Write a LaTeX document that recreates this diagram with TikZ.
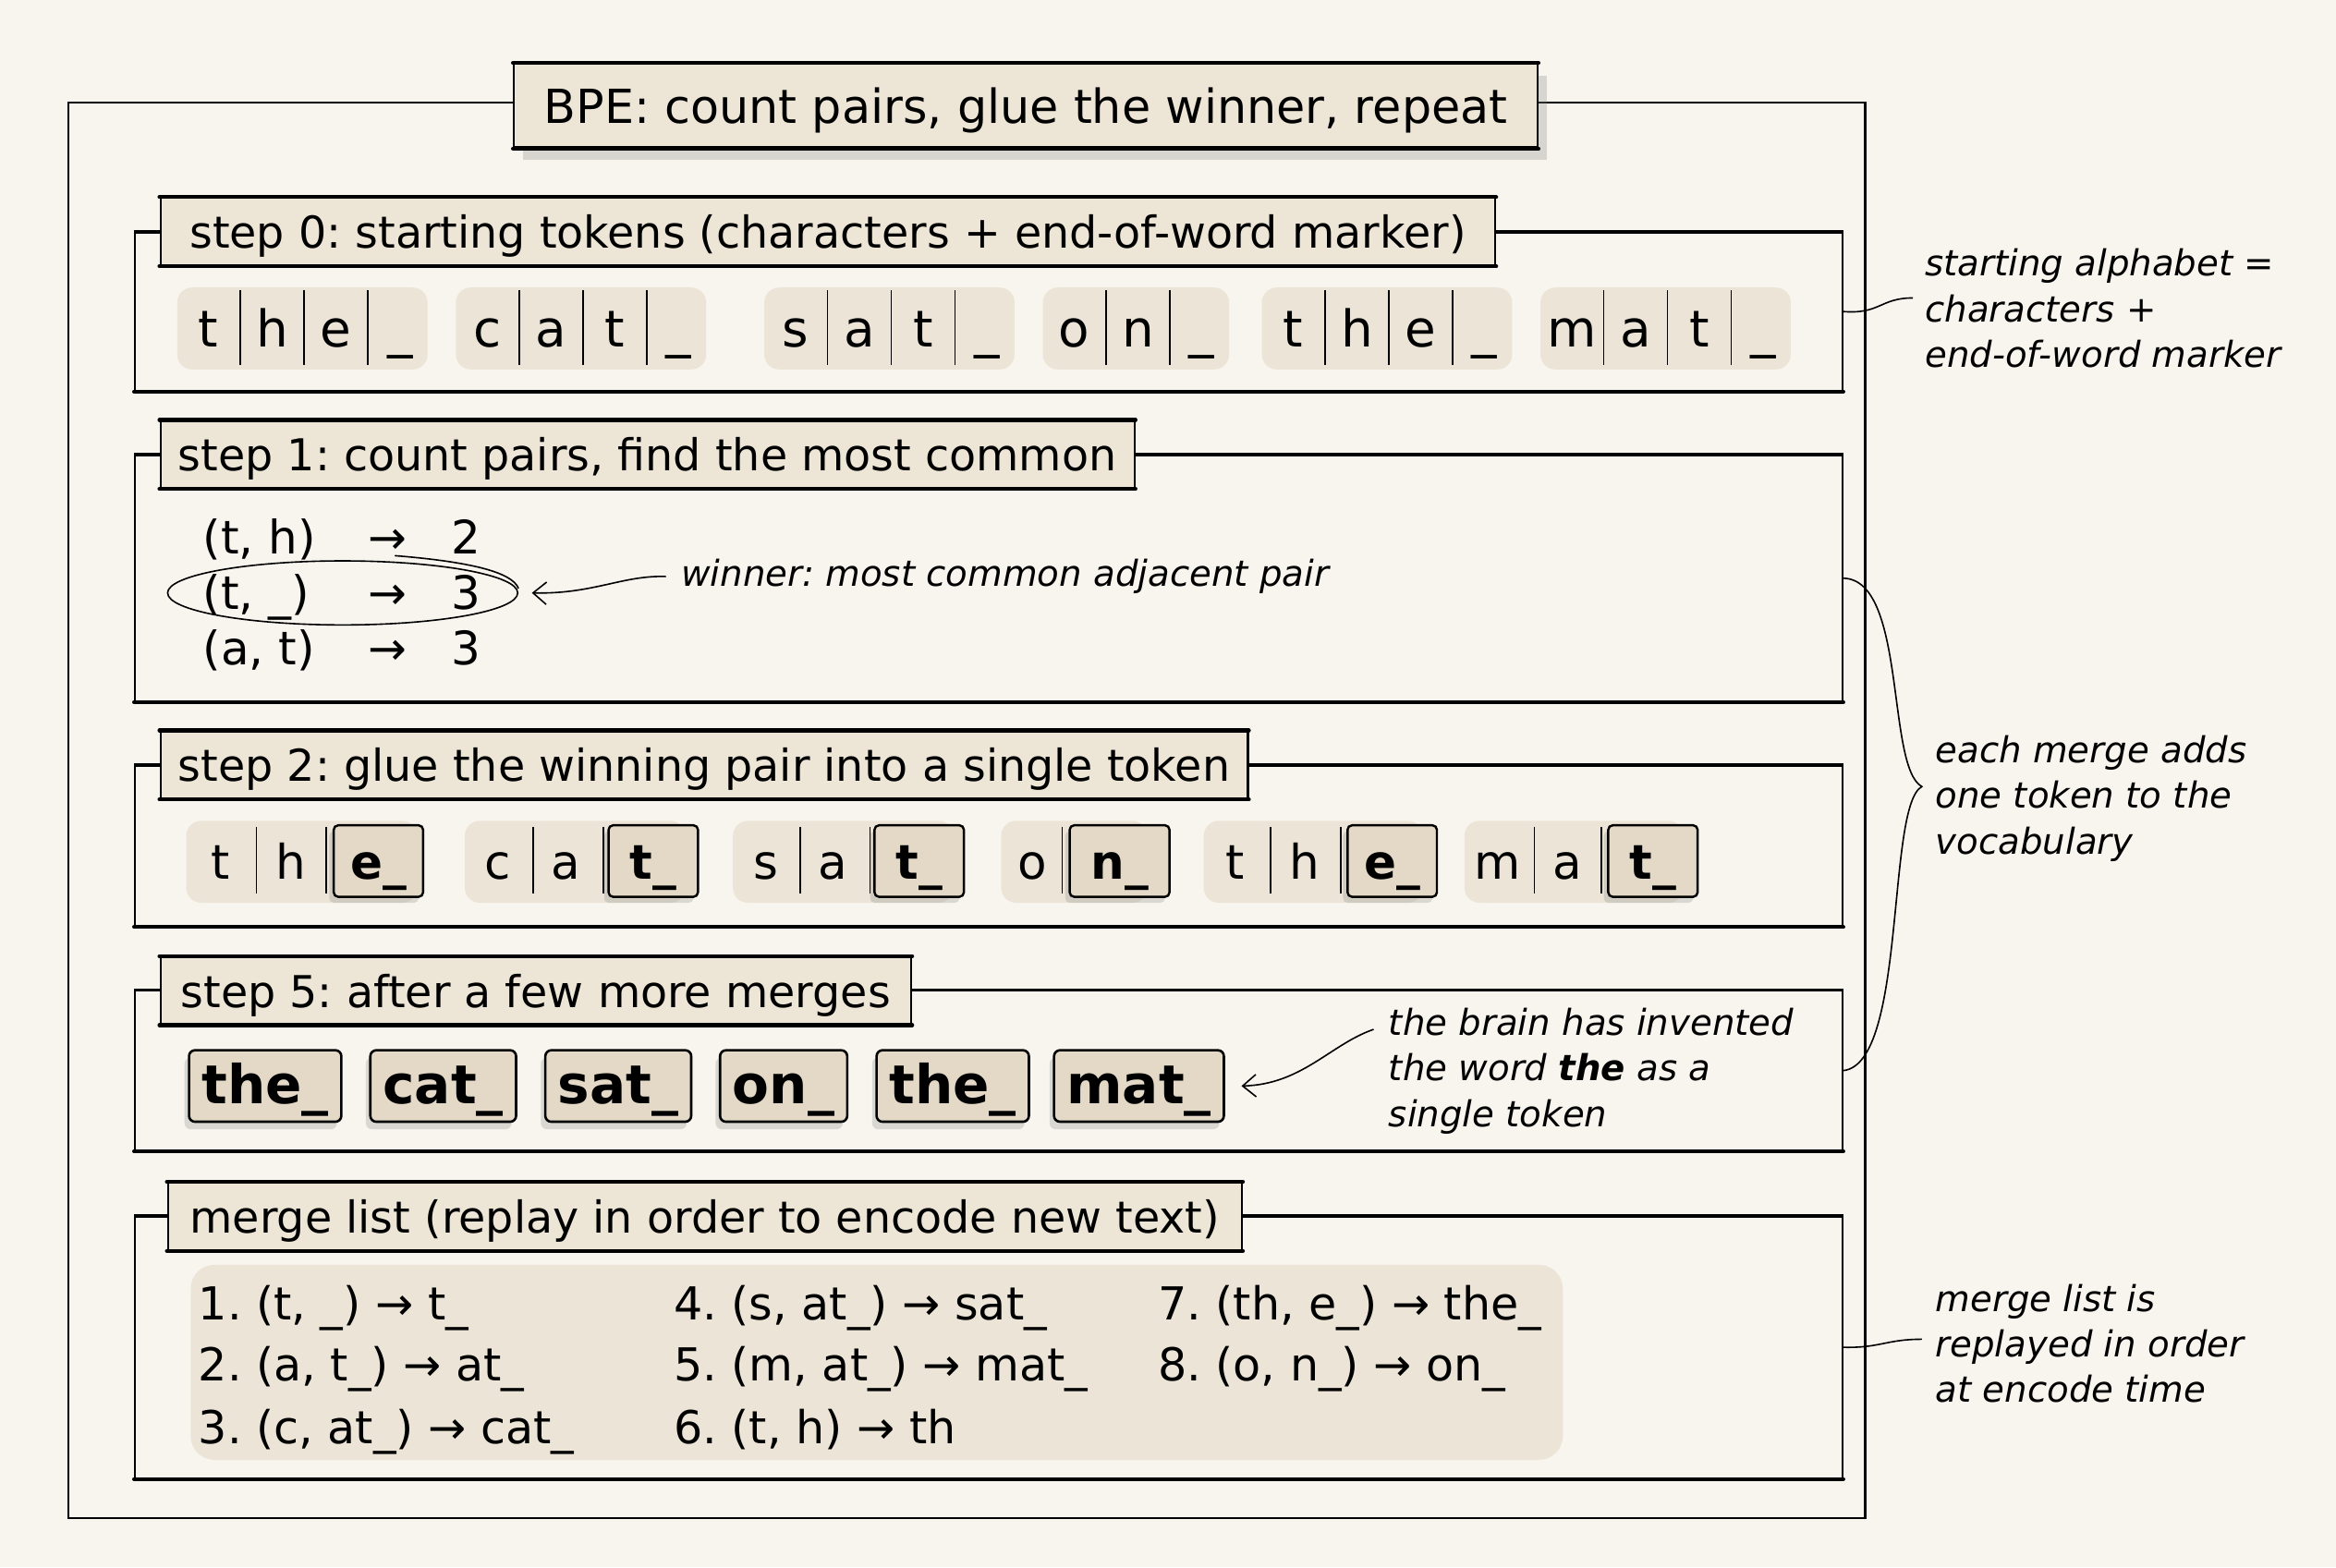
\documentclass[tikz,border=0pt]{standalone}
\usepackage{fontspec}
\setmainfont{DejaVu Sans}[BoldFont={DejaVu Sans Bold},ItalicFont={DejaVu Sans Oblique},BoldItalicFont={DejaVu Sans Bold Oblique}]
\usetikzlibrary{shapes.geometric,shadows,arrows.meta}
\definecolor{bgc}{HTML}{F8F5EE}
\definecolor{labfill}{HTML}{EDE6D6}
\definecolor{tokfill}{HTML}{E3D9C6}
\definecolor{blobc}{HTML}{ECE5D7}
\frenchspacing
\begin{document}
\begin{tikzpicture}[x=1pt,y=-1pt,
  thickedge/.style={line width=2.6pt, line cap=round},
  contentbox/.style={draw=black, line width=1.3pt, inner sep=0pt, anchor=north west, minimum width=1146pt},
  labelbox/.style={draw=black, line width=1.3pt, fill=labfill, anchor=west, minimum height=45pt, inner xsep=12pt, inner ysep=0pt, text height=23.6pt, text depth=1.4pt, font=\fontsize{29.5}{36}\selectfont},
  titlebox/.style={draw=black, line width=1.4pt, fill=labfill, minimum width=687pt, minimum height=56pt, inner sep=0pt, text height=25.2pt, text depth=1.6pt, font=\fontsize{31.5}{38}\selectfont, drop shadow={opacity=.3, fill=black!45, shadow xshift=6pt, shadow yshift=-8pt}},
  tokA/.style={anchor=base, inner sep=0pt, font=\fontsize{34}{40}\selectfont},
  tokB/.style={anchor=base, inner sep=0pt, font=\fontsize{32}{38}\selectfont},
  gluebox/.style={draw=black, line width=1.5pt, fill=tokfill, rounded corners=3pt, minimum width=60pt, minimum height=48pt, inner sep=0pt, text height=24.3pt, text depth=0pt, font=\bfseries\fontsize{32}{38}\selectfont, drop shadow={opacity=.25, fill=black!50, shadow xshift=-3pt, shadow yshift=-4pt}},
  wordbox/.style={draw=black, line width=1.6pt, fill=tokfill, rounded corners=4pt, minimum height=48pt, inner xsep=8.5pt, inner ysep=0pt, text height=27.4pt, text depth=3.6pt, font=\bfseries\fontsize{36}{42}\selectfont, drop shadow={opacity=.25, fill=black!50, shadow xshift=-3pt, shadow yshift=-5pt}},
  sepline/.style={line width=1pt},
  blobfill/.style={fill=blobc, rounded corners=10pt},
  rowtxt/.style={inner sep=0pt, font=\fontsize{31}{36}\selectfont},
  mtxt/.style={anchor=base west, inner sep=0pt, font=\fontsize{30.5}{34}\selectfont},
  ann/.style={inner sep=0pt, align=left, anchor=west, font=\itshape\fontsize{24}{30.5}\selectfont},
  conn/.style={line width=1pt},
  arrowtip/.style={-{Straight Barb[length=9pt,width=15pt]}}
]
\useasboundingbox (0,0) rectangle (1568,1052);
\fill[bgc] (0,0) rectangle (1568,1052);

% outer frame
\draw[line width=1.5pt] (46,69) rectangle (1252,1019);
\node[titlebox] (title) at (688.5,71) {BPE: count pairs, glue the winner, repeat};
\draw[thickedge] (title.north west) -- (title.north east);
\draw[thickedge] (title.south west) -- (title.south east);

% ---------------- step 0
\node[contentbox, minimum height=106pt] (b0) at (90,155.5) {};
\draw[thickedge] (b0.south west) -- (b0.south east);
\draw[line width=2pt] (b0.north west) -- (b0.north east);
\node[labelbox, minimum width=896pt] (l0) at (107,155.5) {step 0: starting tokens (characters + end-of-word marker)};
\draw[thickedge] (l0.north west) -- (l0.north east);
\draw[thickedge] (l0.south west) -- (l0.south east);
\foreach \xa/\xb in {119/287,306/474,513/681,700/825,847/1015,1034/1202}
  \fill[blobfill] (\xa,193) rectangle (\xb,248);
\foreach \nm/\x/\c in {a1/140/t,a2/182.8/h,a3/225.6/e,a4/268.4/\_,
  a5/327/c,a6/369.8/a,a7/412.6/t,a8/455.4/\_,
  a9/534/s,a10/576.8/a,a11/619.6/t,a12/662.4/\_,
  a13/721/o,a14/763.8/n,a15/806.6/\_,
  a16/868/t,a17/910.8/h,a18/953.6/e,a19/996.4/\_,
  a20/1055/m,a21/1097.8/a,a22/1140.6/t,a23/1183.4/\_}
  \node[tokA] (\nm) at (\x,233) {\c};
\foreach \x in {161.4,204.2,247,348.4,391.2,434,555.4,598.2,641,742.4,785.2,889.4,932.2,975,1076.4,1119.2,1162}
  \draw[sepline] (\x,195) -- (\x,245);

% ---------------- step 1
\node[contentbox, minimum height=165pt] (b1) at (90,305) {};
\draw[thickedge] (b1.south west) -- (b1.south east);
\draw[line width=2pt] (b1.north west) -- (b1.north east);
\node[labelbox, minimum width=650pt] (l1) at (107,305) {step 1: count pairs, find the most common};
\draw[thickedge] (l1.north west) -- (l1.north east);
\draw[thickedge] (l1.south west) -- (l1.south east);
\node[rowtxt, anchor=base west] (p1) at (136,372) {(t, h)};
\node[rowtxt, anchor=base] (r1) at (260,372) {→};
\node[rowtxt, anchor=base] (n1) at (313,372) {2};
\node[rowtxt, anchor=base west] (p2) at (136,409) {(t, \_)};
\node[rowtxt, anchor=base] (r2) at (260,409) {→};
\node[rowtxt, anchor=base] (n2) at (313,409) {3};
\node[rowtxt, anchor=base west] (p3) at (136,446) {(a, t)};
\node[rowtxt, anchor=base] (r3) at (260,446) {→};
\node[rowtxt, anchor=base] (n3) at (313,446) {3};
\node[draw, ellipse, line width=1pt, minimum width=235pt, minimum height=43pt, inner sep=0pt] (win) at (230,398) {};
\draw[line width=1pt] ([xshift=35pt,yshift=3pt]win.north) .. controls ([xshift=85pt,yshift=-1pt]win.north) and ([xshift=114pt,yshift=-8pt]win.north) .. ([xshift=118pt,yshift=-19pt]win.north);
\node[ann] (wn) at (457,387) {winner: most common adjacent pair};
\draw[conn, arrowtip] ([xshift=-10pt]wn.west) .. controls (418,386) and (398,399) .. ([xshift=9pt]win.east);

% ---------------- step 2
\node[contentbox, minimum height=107.5pt] (b2) at (90,513.5) {};
\draw[thickedge] (b2.south west) -- (b2.south east);
\draw[line width=2pt] (b2.north west) -- (b2.north east);
\node[labelbox, minimum width=728pt] (l2) at (107,513.5) {step 2: glue the winning pair into a single token};
\draw[thickedge] (l2.north west) -- (l2.north east);
\draw[thickedge] (l2.south west) -- (l2.south east);
\foreach \xa/\xb in {125/280,312/460,492/640,672/770,808/955,983/1130}
  \fill[blobfill] (\xa,551) rectangle (\xb,606);
\foreach \nm/\x/\c in {c1/148/t,c2/195/h,c3/334/c,c4/380/a,c5/514/s,c6/559/a,c7/693/o,c8/829/t,c9/876/h,c10/1005/m,c11/1052/a}
  \node[tokB] (\nm) at (\x,590) {\c};
\foreach \x in {172,219,358,405,537,584,713,853,900,1030,1075}
  \draw[sepline] (\x,555) -- (\x,600);
\node[gluebox] (g1) at (254,578) {e\_};
\node[gluebox] (g2) at (438.5,578) {t\_};
\node[gluebox] (g3) at (617,578) {t\_};
\node[gluebox, minimum width=67pt] (g4) at (751.5,578) {n\_};
\node[gluebox] (g5) at (934.5,578) {e\_};
\node[gluebox] (g6) at (1109.5,578) {t\_};

% ---------------- step 5
\node[contentbox, minimum height=107pt] (b5) at (90,664.5) {};
\draw[thickedge] (b5.south west) -- (b5.south east);
\draw[line width=2pt] (b5.north west) -- (b5.north east);
\node[labelbox, minimum width=504pt] (l5) at (107,665) {step 5: after a few more merges};
\draw[thickedge] (l5.north west) -- (l5.north east);
\draw[thickedge] (l5.south west) -- (l5.south east);
\node[wordbox] (w1) at (178,729) {the\_};
\node[wordbox] (w2) at (297.5,729) {cat\_};
\node[wordbox] (w3) at (415,729) {sat\_};
\node[wordbox] (w4) at (526,729) {on\_};
\node[wordbox] (w5) at (639.5,729) {the\_};
\node[wordbox] (w6) at (764.5,729) {mat\_};
\node[ann] (brain) at (932,719) {the brain has invented\\the word \textbf{the} as a\\single token};
\coordinate (bstart) at (922,691);
\draw[conn, arrowtip] (bstart) .. controls (893,701) and (874,728) .. ([xshift=11pt]w6.east);

% ---------------- merge list
\node[contentbox, minimum height=175.5pt] (bm) at (90,816) {};
\draw[thickedge] (bm.south west) -- (bm.south east);
\draw[line width=2pt] (bm.north west) -- (bm.north east);
\node[labelbox, minimum width=721pt] (lm) at (112,816.5) {merge list (replay in order to encode new text)};
\draw[thickedge] (lm.north west) -- (lm.north east);
\draw[thickedge] (lm.south west) -- (lm.south east);
\fill[blobfill, rounded corners=16pt] (128,849) rectangle (1049,980);
\node[mtxt] (m1) at (133,886) {1. (t, \_) → t\_};
\node[mtxt] (m2) at (133,927) {2. (a, t\_) → at\_};
\node[mtxt] (m3) at (133,969) {3. (c, at\_) → cat\_};
\node[mtxt] (m4) at (452,886) {4. (s, at\_) → sat\_};
\node[mtxt] (m5) at (452,927) {5. (m, at\_) → mat\_};
\node[mtxt] (m6) at (452,969) {6. (t, h) → th};
\node[mtxt] (m7) at (777,886) {7. (th, e\_) → the\_};
\node[mtxt] (m8) at (777,927) {8. (o, n\_) → on\_};

% ---------------- right annotations
\node[ann] (ann0) at (1292,207) {starting alphabet =\\characters +\\end-of-word marker};
\draw[conn] (b0.east) .. controls (1262,211) and (1262,200) .. ([xshift=-8pt,yshift=7pt]ann0.west);
\node[ann] (ann1) at (1299,536) {each merge adds\\one token to the\\vocabulary};
\coordinate (brc) at (1290,528);
\draw[conn] (b1.east) .. controls (1280,389) and (1266,515) .. (brc) .. controls (1266,541) and (1280,714) .. (b5.east);
\node[ann] (ann2) at (1299,902) {merge list is\\replayed in order\\at encode time};
\draw[conn] (bm.east) .. controls (1262,905) and (1266,899) .. ([xshift=-9pt,yshift=3pt]ann2.west);
\end{tikzpicture}
\end{document}
